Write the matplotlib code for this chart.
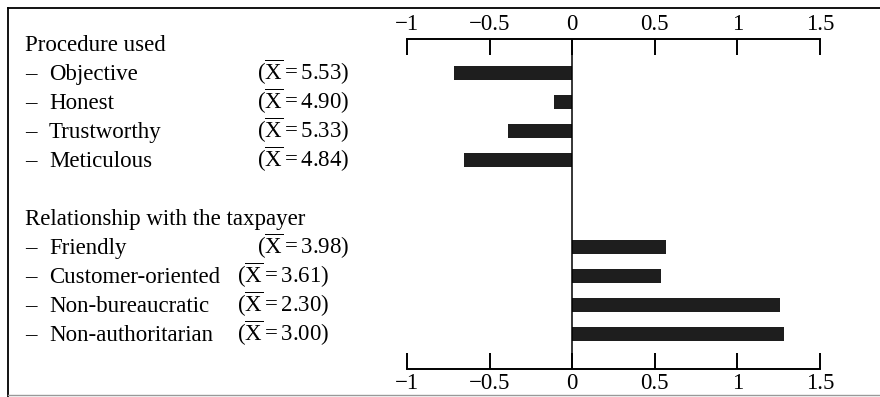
import matplotlib
matplotlib.use("Agg")
import matplotlib.pyplot as plt
from matplotlib.lines import Line2D
from matplotlib.transforms import blended_transform_factory

plt.rcParams['font.family'] = ['Liberation Serif', 'DejaVu Serif']
plt.rcParams['mathtext.fontset'] = 'custom'
plt.rcParams['mathtext.rm'] = 'Liberation Serif'
plt.rcParams['mathtext.it'] = 'Liberation Serif:italic'
plt.rcParams['axes.unicode_minus'] = True

# data
group_titles = ["Procedure used", "Relationship with the taxpayer"]
procedure_items = ["Objective", "Honest", "Trustworthy", "Meticulous"]
procedure_means = ["5.53", "4.90", "5.33", "4.84"]
procedure_values = [-0.715, -0.11, -0.39, -0.655]
relation_items = ["Friendly", "Customer-oriented", "Non-bureaucratic", "Non-authoritarian"]
relation_means = ["3.98", "3.61", "2.30", "3.00"]
relation_values = [0.57, 0.54, 1.26, 1.28]
xticks = [-1, -0.5, 0, 0.5, 1, 1.5]
xtick_labels = ["\u22121", "\u22120.5", "0", "0.5", "1", "1.5"]

W, H = 880, 397
fig = plt.figure(figsize=(W / 100, H / 100), dpi=100)
ax = fig.add_axes([407 / W, 1 - 369 / H, 413 / W, 330 / H])

proc_rows = [0, 1, 2, 3]
rel_rows = [6, 7, 8, 9]
bar_color = "#1e1e1e"
ax.barh(proc_rows, procedure_values, height=0.48, color=bar_color)
ax.barh(rel_rows, relation_values, height=0.48, color=bar_color)

ax.set_xlim(-1, 1.5)
ax.set_ylim(10.21, -1.17)
ax.axvline(0, color="black", lw=1.1)

for s in ["left", "right"]:
    ax.spines[s].set_visible(False)
for s in ["top", "bottom"]:
    ax.spines[s].set_linewidth(1.4)
ax.set_yticks([])
ax.set_xticks(xticks)
ax.set_xticklabels(xtick_labels)
ax.tick_params(axis="x", direction="in", length=11.5, width=1.4, top=True,
               bottom=True, labeltop=True, labelbottom=True, labelsize=16.5, pad=3)

# left side text, x in figure pixels, y in rows (baseline a bit below row centre)
tr = blended_transform_factory(fig.transFigure, ax.transData)
fs = 16.5
off = 0.26


def put(xpix, row, s):
    ax.text(xpix / W, row + off, s, transform=tr, fontsize=fs, va="baseline")


def mean_label(m):
    return r"$\mathrm{(\overline{X}=" + m + ")}$"


put(25, -1, group_titles[0])
put(25, 5, group_titles[1])

for i, (name, m) in enumerate(zip(procedure_items, procedure_means)):
    r = proc_rows[i]
    put(25, r, "\u2013")
    put(49, r, name)
    put(257, r, mean_label(m))

mean_x = [257, 237, 237, 237]
for i, (name, m) in enumerate(zip(relation_items, relation_means)):
    r = rel_rows[i]
    put(25, r, "\u2013")
    put(49, r, name)
    put(mean_x[i], r, mean_label(m))

# outer frame
fig.add_artist(Line2D([8 / W, 1], [1 - 8 / H, 1 - 8 / H], color="black", lw=1.3))
fig.add_artist(Line2D([8 / W, 8 / W], [0, 1 - 8 / H], color="black", lw=1.3))
fig.add_artist(Line2D([8 / W, 1], [1 - 395 / H, 1 - 395 / H], color="#999999", lw=1))

fig.savefig("out.png", dpi=100)
